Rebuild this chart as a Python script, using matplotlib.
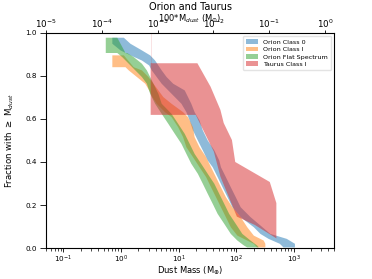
import numpy as np
import matplotlib
matplotlib.use('Agg')
import matplotlib.pyplot as plt
from matplotlib.ticker import NullLocator

# Orion Class 0 band (fraction, lower mass edge, upper mass edge)
c0_frac = [0.98, 0.952, 0.921, 0.898, 0.874, 0.851, 0.828, 0.797, 0.766, 0.735, 0.704,
           0.673, 0.634, 0.595, 0.549, 0.502, 0.456, 0.409, 0.378, 0.332, 0.285, 0.239,
           0.192, 0.146, 0.099, 0.068, 0.045, 0.022, 0.005]
c0_lo = [0.692, 0.692, 0.961, 1.427, 2.261, 3.02, 3.355, 4.087, 4.98, 6.478, 8.428,
         10.96, 13.36, 15.23, 17.38, 21.17, 25.79, 31.42, 38.28, 46.62, 56.79, 69.18,
         84.27, 117.1, 198.2, 257.9, 357.0, 560.0, 650.0]
c0_hi = [1.096, 1.427, 2.261, 3.142, 3.827, 4.365, 4.98, 6.066, 7.892, 12.51, 14.27,
         16.27, 18.56, 22.61, 25.79, 31.42, 40.88, 49.79, 53.18, 64.78, 78.91, 96.12,
         117.1, 173.8, 280.0, 382.7, 738.9, 1026.0, 1026.0]

# Orion Class I band
c1_frac = [0.898, 0.843, 0.843, 0.828, 0.797, 0.766, 0.735, 0.704, 0.673, 0.634, 0.611,
           0.564, 0.518, 0.471, 0.425, 0.378, 0.332, 0.285, 0.239, 0.192, 0.146, 0.099,
           0.060, 0.037, 0.022, 0.005]
c1_lo = [0.692, 0.692, 1.171, 1.336, 1.856, 2.579, 3.02, 3.444, 4.087, 5.68, 7.39,
         9.614, 11.71, 13.36, 17.38, 22.61, 29.42, 35.84, 43.65, 53.18, 64.78, 78.91,
         102.7, 152.4, 198.2, 226.1]
c1_hi = [1.096, 1.627, 1.627, 2.261, 2.941, 3.583, 4.365, 5.318, 7.39, 11.71, 14.27,
         17.38, 18.56, 22.61, 29.42, 35.84, 43.65, 53.18, 64.78, 84.27, 117.1, 152.4,
         198.2, 294.2, 314.2, 314.2]

# Orion Flat Spectrum band
fs_frac = [0.98, 0.909, 0.909, 0.890, 0.859, 0.828, 0.797, 0.766, 0.719, 0.673, 0.626,
           0.580, 0.533, 0.487, 0.440, 0.394, 0.347, 0.301, 0.254, 0.208, 0.161, 0.115,
           0.068, 0.037, 0.014, 0.005]
fs_lo = [0.532, 0.532, 0.843, 1.027, 1.336, 1.738, 2.261, 2.754, 3.142, 3.827, 4.98,
         6.478, 8.428, 10.96, 13.36, 16.27, 21.17, 25.79, 31.42, 38.28, 46.62, 60.66,
         78.91, 102.7, 133.6, 152.4]
fs_hi = [0.843, 1.171, 1.251, 1.627, 2.261, 2.754, 3.142, 3.583, 4.365, 4.98, 7.39,
         9.614, 12.51, 15.23, 18.56, 24.15, 31.42, 40.88, 49.79, 60.66, 73.89, 96.12,
         125.1, 173.8, 226.1, 241.5]

# Taurus Class I region (outline)
ta_mass = [3.268, 21.17, 35.84, 53.18, 60.66, 84.27, 96.12, 382.7, 497.9, 497.9,
           497.9, 211.7, 102.7, 53.18, 40.88, 19.82, 3.268]
ta_frac = [0.859, 0.859, 0.750, 0.642, 0.581, 0.502, 0.400, 0.307, 0.209, 0.034,
           0.045, 0.107, 0.146, 0.332, 0.448, 0.619, 0.619]
ta_line_mass = [3.268, 3.268]
ta_line_frac = [0.859, 1.0]

fig = plt.figure(figsize=(3.72, 2.79), dpi=100)
ax = fig.add_axes([0.124, 0.111, 0.774, 0.771])

ax.fill_betweenx(c0_frac, c0_lo, c0_hi, color='tab:blue', alpha=0.5, lw=0, label='Orion Class 0')
ax.fill_betweenx(c1_frac, c1_lo, c1_hi, color='tab:orange', alpha=0.5, lw=0, label='Orion Class I')
ax.fill_betweenx(fs_frac, fs_lo, fs_hi, color='tab:green', alpha=0.5, lw=0, label='Orion Flat Spectrum')
ax.fill(ta_mass, ta_frac, color='tab:red', alpha=0.5, lw=0, label='Taurus Class I')
ax.plot(ta_line_mass, ta_line_frac, color='tab:red', alpha=0.15, lw=0.6)

ax.set_xscale('log')
ax.set_xlim(0.05, 5000)
ax.set_ylim(0, 1)
ax.set_xlabel(r'Dust Mass (M$_{\oplus}$)', fontsize=6, labelpad=-0.5)
ax.set_ylabel(r'Fraction with $\geq$ M$_{dust}$', fontsize=6.2, labelpad=7)
ax.tick_params(axis='x', labelsize=5.2, length=3, width=0.6, pad=1)
ax.tick_params(axis='y', labelsize=5.2, length=4.5, width=0.6, pad=2)
ax.tick_params(which='minor', length=1.8, width=0.5)
for s in ax.spines.values():
    s.set_linewidth(0.7)
ax.legend(loc='upper right', fontsize=4.6, handlelength=1.8, borderpad=0.5,
          labelspacing=0.3, framealpha=0.8, edgecolor='#dddddd')

ax2 = ax.twiny()
ax2.set_xscale('log')
ax2.set_xlim(1e-5, 1.45)
ax2.xaxis.set_minor_locator(NullLocator())
ax2.tick_params(labelsize=6.3, length=2, width=0.6, pad=0.3)
ax2.set_xlabel(r'100*M$_{dust}$ (M$_{\odot}$)', fontsize=6, labelpad=-3)
ax2.set_title('Orion and Taurus', fontsize=7, pad=1.5)

fig.savefig('out.png', dpi=100)
